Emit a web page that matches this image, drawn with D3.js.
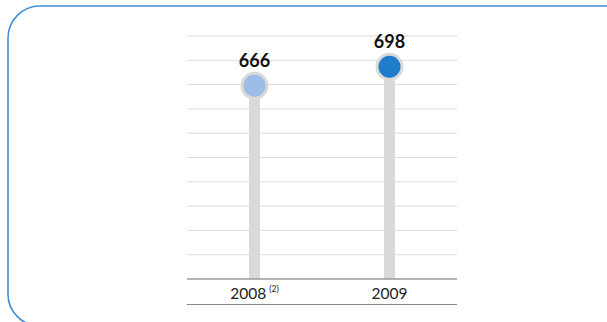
<!DOCTYPE html>
<html>
<head>
<meta charset="utf-8">
<script src="https://cdn.jsdelivr.net/npm/d3@7"></script>
<style>
  html, body { margin: 0; padding: 0; background: #fff; }
  svg { display: block; }
</style>
</head>
<body>
<div id="chart"></div>
<script>
// Lollipop chart, two years
const years = ['2008', '2009'];
const yearNotes = ['(2)', ''];
const values = [666, 698];
const dotColors = ['#9bbde6', '#1f7ccb'];
const gridCount = 10;

const width = 607, height = 322;
const plot = { left: 187, right: 457, top: 36, bottom: 279 };

const svg = d3.select('#chart').append('svg')
  .attr('width', width).attr('height', height);

// rounded frame, open on the right and bottom
const r = 32, fx = 8, fy = 6, fb = 326;
svg.append('path')
  .attr('d', `M${width + 5},${fy} L${fx + r},${fy} A${r},${r} 0 0 0 ${fx},${fy + r} L${fx},${fb - r} A${r},${r} 0 0 0 ${fx + r},${fb}`)
  .attr('fill', 'none').attr('stroke', '#3f8fd8').attr('stroke-width', 1.6);

const x = d3.scalePoint().domain(years).range([plot.left, plot.right]).padding(0.5);
const y = d3.scaleLinear().domain([340, 750]).range([plot.bottom, plot.top]);

// gridlines
const step = (y.domain()[1] - y.domain()[0]) / gridCount;
const gridVals = d3.range(1, gridCount + 1).map(i => y.domain()[0] + i * step);
svg.append('g').selectAll('line').data(gridVals).join('line')
  .attr('x1', plot.left).attr('x2', plot.right)
  .attr('y1', d => y(d)).attr('y2', d => y(d))
  .attr('stroke', '#dcdcdc').attr('stroke-width', 1);

// stems
svg.append('g').selectAll('rect').data(years).join('rect')
  .attr('x', d => x(d) - 5.5).attr('width', 11)
  .attr('y', (d, i) => y(values[i]))
  .attr('height', (d, i) => plot.bottom - y(values[i]))
  .attr('fill', '#d9d9d9');

// baseline axis
const axis = svg.append('g').attr('transform', `translate(0,${plot.bottom})`)
  .call(d3.axisBottom(x).tickSize(0).tickPadding(12).tickFormat(''));
axis.select('.domain').attr('stroke', '#999').attr('stroke-width', 1.6)
  .attr('d', `M${plot.left},0H${plot.right}`);

// year labels
const lab = svg.append('g').selectAll('text').data(years).join('text')
  .attr('x', d => x(d)).attr('y', 298.5)
  .attr('text-anchor', 'middle')
  .attr('font-family', 'Lato, "DejaVu Sans", sans-serif')
  .attr('font-size', 15.5).attr('fill', '#222');
lab.append('tspan').text(d => d);
lab.append('tspan').attr('font-size', 8.5).attr('dx', 3).attr('dy', -7)
  .text((d, i) => yearNotes[i]);

// bottom rule
svg.append('line')
  .attr('x1', plot.left).attr('x2', plot.right)
  .attr('y1', 304.5).attr('y2', 304.5)
  .attr('stroke', '#888').attr('stroke-width', 1.2);

// dots
svg.append('g').selectAll('circle').data(years).join('circle')
  .attr('cx', d => x(d)).attr('cy', (d, i) => y(values[i]))
  .attr('r', 12.5)
  .attr('fill', (d, i) => dotColors[i])
  .attr('stroke', '#d9d9d9').attr('stroke-width', 3);

// value labels
svg.append('g').selectAll('text').data(years).join('text')
  .attr('x', d => x(d)).attr('y', (d, i) => y(values[i]) - 19)
  .attr('text-anchor', 'middle')
  .attr('font-family', 'Lato, "DejaVu Sans", sans-serif')
  .attr('font-weight', 'bold').attr('font-size', 18).attr('fill', '#111')
  .text((d, i) => values[i]);
</script>
</body>
</html>
